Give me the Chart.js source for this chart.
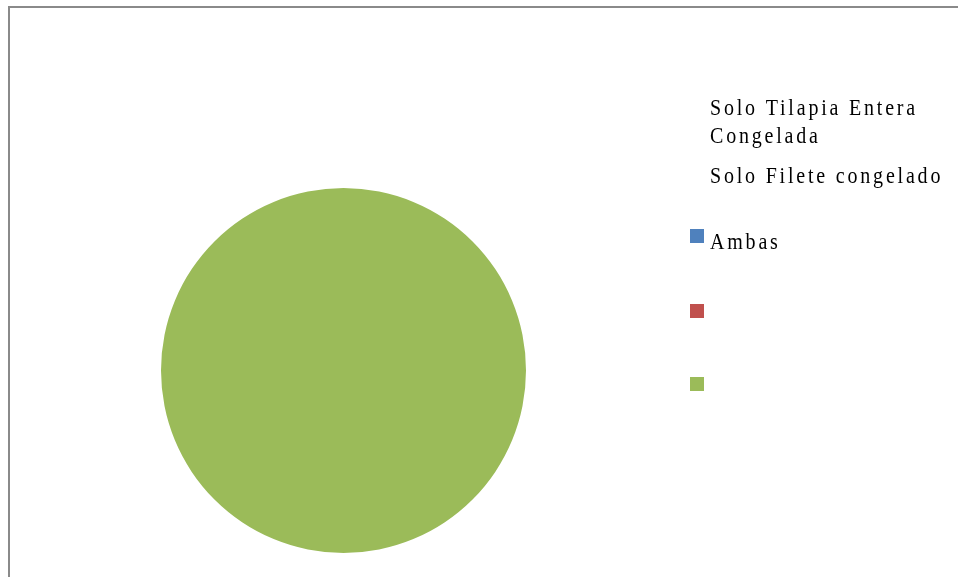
<!DOCTYPE html>
<html>
<head>
<meta charset="utf-8">
<script src="https://cdn.jsdelivr.net/npm/chart.js@4.4.0/dist/chart.umd.min.js"></script>
<style>
  html, body { margin: 0; padding: 0; background: #fff; }
  #wrap { position: absolute; left: 0; top: 0; width: 958px; height: 577px; overflow: hidden; }
  #frame { position: absolute; left: 8px; top: 6px; width: 1200px; height: 800px; border: 2px solid #8a8a8a; box-sizing: border-box; }
  #pieChart { position: absolute; left: 0; top: 0; }
</style>
</head>
<body>
<div id="wrap">
  <div id="frame"></div>
  <canvas id="pieChart" width="958" height="577"></canvas>
</div>
<script>
// categorie e valori del grafico a torta
var categorie = [
  ['Solo Tilapia Entera', 'Congelada'],
  'Solo Filete congelado',
  'Ambas'
];
var valori = [0, 0, 100];
var colori = ['#4F81BD', '#C0504D', '#9BBB59'];

// legenda disegnata a mano: testi in alto, quadratini sotto
var legendaExcel = {
  id: 'legendaExcel',
  afterDraw: function(chart, args, opts) {
    var ctx = chart.ctx;
    var labels = chart.data.labels;
    var bg = chart.data.datasets[0].backgroundColor;

    ctx.save();
    // quadratini colorati
    for (var i = 0; i < bg.length; i++) {
      ctx.fillStyle = bg[i];
      ctx.fillRect(opts.boxX, opts.boxY[i], 14, 14);
    }

    // testi delle categorie
    ctx.fillStyle = '#000';
    ctx.font = '20px "Liberation Serif", "Times New Roman", serif';
    ctx.letterSpacing = '2.8px';
    ctx.textBaseline = 'alphabetic';
    for (var j = 0; j < labels.length; j++) {
      var righe = Array.isArray(labels[j]) ? labels[j] : [labels[j]];
      for (var r = 0; r < righe.length; r++) {
        var y = opts.textY[j] + r * 28;
        ctx.save();
        ctx.translate(opts.textX, y);
        ctx.scale(1, 1.2);
        ctx.fillText(righe[r], 0, 0);
        ctx.restore();
      }
    }
    ctx.restore();
  }
};

var ctx = document.getElementById('pieChart');
var myChart = new Chart(ctx, {
  type: 'pie',
  data: {
    labels: categorie,
    datasets: [{
      data: valori,
      backgroundColor: colori,
      borderWidth: 0
    }]
  },
  options: {
    responsive: false,
    animation: false,
    layout: {
      padding: { left: 161, right: 432, top: 188, bottom: 24 }
    },
    plugins: {
      legend: { display: false },
      tooltip: { enabled: false },
      legendaExcel: {
        boxX: 690,
        boxY: [229, 304, 377],
        textX: 710,
        textY: [115, 183, 249]
      }
    }
  },
  plugins: [legendaExcel]
});
</script>
</body>
</html>
